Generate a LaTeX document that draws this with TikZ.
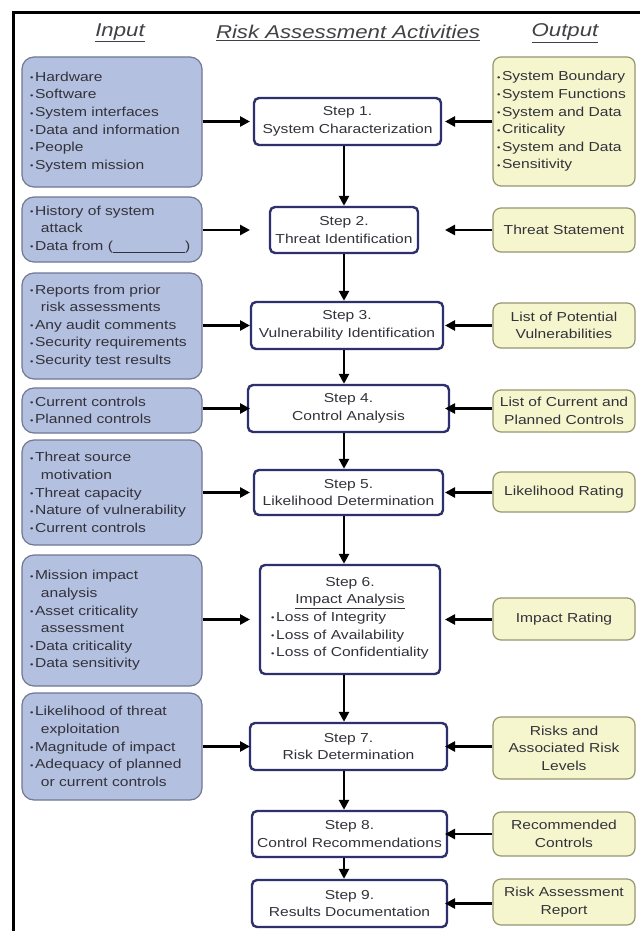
\documentclass[tikz,border=0pt]{standalone}
\usepackage{fontspec}
\setmainfont[FakeStretch=1.2]{Liberation Sans}
\usetikzlibrary{arrows.meta}
\definecolor{lfill}{RGB}{180,192,224}
\definecolor{ldraw}{RGB}{112,120,148}
\definecolor{rfill}{RGB}{246,246,206}
\definecolor{rdraw}{RGB}{150,150,112}
\definecolor{sdraw}{RGB}{46,48,110}
\definecolor{txt}{RGB}{50,50,58}
\definecolor{htxt}{RGB}{65,65,70}
\newcommand\bl{\makebox[5pt][l]{\raisebox{0.5pt}{\fontsize{8}{8}\selectfont •}}}
\newcommand\ct{\hspace*{11pt}}
\begin{document}
\begin{tikzpicture}[x=1pt,y=-1pt,
  font=\fontsize{13}{17.6}\selectfont, text=txt,
  inbox/.style={draw=ldraw, fill=lfill, line width=1.2pt, rounded corners=12pt,
    minimum width=180pt, inner xsep=8pt, inner ysep=0pt, text width=164pt, align=left},
  outbox/.style={draw=rdraw, fill=rfill, line width=1.2pt, rounded corners=8pt,
    minimum width=142pt, inner xsep=4pt, inner ysep=0pt, align=center},
  stepbox/.style={draw=sdraw, fill=white, line width=2.4pt, rounded corners=5pt,
    inner sep=0pt, align=center},
  head/.style={font=\fontsize{18.5}{22}\selectfont\itshape, text=htxt},
  arr/.style={line width=2.8pt, -{Triangle[length=10pt,width=10pt]}}
]
\useasboundingbox (0,0) rectangle (640,931);
\fill[white] (0,0) rectangle (640,931);
\draw[line width=2.5pt] (640,12.5) -- (13.5,12.5) -- (13.5,931);

% headers
\node[head] (hin)  at (120,33) {\underline{Input}};
\node[head] (hact) at (348,33) {\underline{Risk Assessment Activities}};
\node[head] (hout) at (565,33) {\underline{Output}};

% left input boxes
\node[inbox, minimum height=130pt] (L1) at (112,122)
  {\bl Hardware\\\bl Software\\\bl System interfaces\\\bl Data and information\\\bl People\\\bl System mission};
\node[inbox, minimum height=65pt] (L2) at (112,229.5)
  {\bl History of system\\\ct attack\\\bl Data from (\underline{\hspace{72pt}})};
\node[inbox, minimum height=106pt] (L3) at (112,326)
  {\bl Reports from prior\\\ct risk assessments\\\bl Any audit comments\\\bl Security requirements\\\bl Security test results};
\node[inbox, minimum height=45pt] (L4) at (112,410.5)
  {\bl Current controls\\\bl Planned controls};
\node[inbox, minimum height=105pt] (L5) at (112,492.5)
  {\bl Threat source\\\ct motivation\\\bl Threat capacity\\\bl Nature of vulnerability\\\bl Current controls};
\node[inbox, minimum height=131pt] (L6) at (112,620.5)
  {\bl Mission impact\\\ct analysis\\\bl Asset criticality\\\ct assessment\\\bl Data criticality\\\bl Data sensitivity};
\node[inbox, minimum height=107pt] (L7) at (112,746.5)
  {\bl Likelihood of threat\\\ct exploitation\\\bl Magnitude of impact\\\bl Adequacy of planned\\\ct or current controls};

% steps
\node[stepbox, minimum width=187pt, minimum height=47pt] (S1) at (347.5,121.5) {Step 1.\\System Characterization};
\node[stepbox, minimum width=148pt, minimum height=46pt] (S2) at (344,230) {Step 2.\\Threat Identification};
\node[stepbox, minimum width=192pt, minimum height=47pt] (S3) at (347,325.5) {Step 3.\\Vulnerability Identification};
\node[stepbox, minimum width=201pt, minimum height=47pt] (S4) at (348.5,408.5) {Step 4.\\Control Analysis};
\node[stepbox, minimum width=189pt, minimum height=45pt] (S5) at (348.5,492.5) {Step 5.\\Likelihood Determination};
\node[stepbox, minimum width=180pt, minimum height=109pt] (S6) at (350,619.5)
  {Step 6.\\\underline{Impact Analysis}\\%
   \begin{tabular}[t]{@{}l@{}}\bl Loss of Integrity\\\bl Loss of Availability\\\bl Loss of Confidentiality\end{tabular}};
\node[stepbox, minimum width=197pt, minimum height=47pt] (S7) at (348.5,746.5) {Step 7.\\Risk Determination};
\node[stepbox, minimum width=195pt, minimum height=46pt] (S8) at (349.5,834) {Step 8.\\Control Recommendations};
\node[stepbox, minimum width=195pt, minimum height=47pt] (S9) at (349.5,903.5) {Step 9.\\Results Documentation};

% right output boxes
\node[outbox, minimum height=129pt, text width=134pt, align=left] (R1) at (564,121.5)
  {\bl System Boundary\\\bl System Functions\\\bl System and Data\\\bl Criticality\\\bl System and Data\\\bl Sensitivity};
\node[outbox, minimum height=44pt] (R2) at (564,230) {Threat Statement};
\node[outbox, minimum height=45pt] (R3) at (564,325.5) {List of Potential\\Vulnerabilities};
\node[outbox, minimum height=42pt] (R4) at (564,411) {List of Current and\\Planned Controls};
\node[outbox, minimum height=40pt] (R5) at (564,492) {Likelihood Rating};
\node[outbox, minimum height=42pt] (R6) at (564,619) {Impact Rating};
\node[outbox, minimum height=62pt] (R7) at (564,748) {Risks and\\Associated Risk\\Levels};
\node[outbox, minimum height=44pt] (R8) at (564,834) {Recommended\\Controls};
\node[outbox, minimum height=46pt] (R9) at (564,902) {Risk Assessment\\Report};

% arrow guide coordinates
\coordinate (ain) at (250,0);
\coordinate (aout) at (445,0);
\coordinate (ax) at (344,0);

% input arrows
\foreach \i in {1,...,7} {
  \draw[arr] (L\i.east |- S\i) -- (ain |- S\i);
}
% output arrows
\foreach \i in {1,...,9} {
  \draw[arr] (R\i.west |- S\i) -- (aout |- S\i);
}
% flow arrows
\foreach \i/\j in {1/2,2/3,3/4,4/5,5/6,6/7,7/8,8/9} {
  \draw[arr] (S\i.south -| ax) -- (S\j.north -| ax);
}
\end{tikzpicture}
\end{document}
